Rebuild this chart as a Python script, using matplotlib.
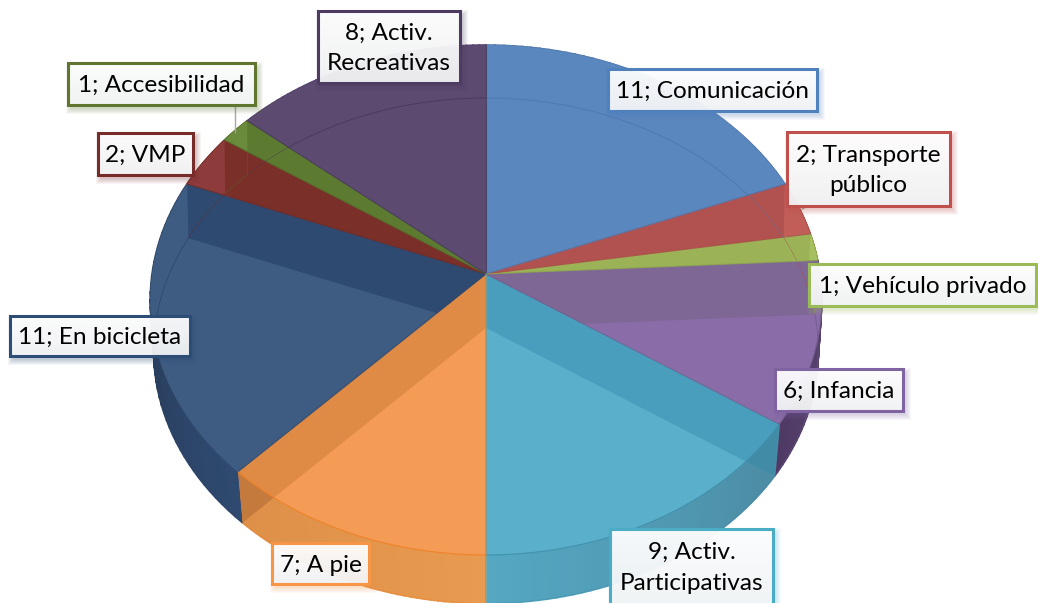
import numpy as np
import matplotlib
matplotlib.use("Agg")
import matplotlib.pyplot as plt
from matplotlib.path import Path
from matplotlib.patches import Rectangle
from matplotlib.colors import to_rgb

plt.rcParams['font.family'] = ['Lato', 'DejaVu Sans']

# ---- data ----
categories = ["Comunicación", "Transporte\npúblico", "Vehículo privado", "Infancia",
              "Activ.\nParticipativas", "A pie", "En bicicleta", "VMP",
              "Accesibilidad", "Activ.\nRecreativas"]
values = [11, 2, 1, 6, 9, 7, 11, 2, 1, 8]

# ---- styles ----
main_colors = ["#5B87BF", "#C25E58", "#A6C05F", "#8A6DA8", "#5AB0CA",
               "#F49B55", "#3E5C82", "#8E3C3B", "#6A8A3C", "#5C4A70"]
wall_colors = ["#5B87BF", "#B25250", "#9BB356", "#7F6795", "#4A9EBD",
               "#E08B45", "#2F4A70", "#7A3029", "#5D7A31", "#5C4A70"]
side_start = ["#4A6FA0", "#A04644", "#8A9F4A", "#5E4872", "#4C8BA3",
              "#E89A50", "#2F4A70", "#6E2C2A", "#55702C", "#4D3B62"]
side_end = ["#4A6FA0", "#A04644", "#8A9F4A", "#4F3A66", "#55A7C2",
            "#DE8F48", "#24344E", "#6E2C2A", "#55702C", "#4D3B62"]
border_colors = ["#4F81BD", "#C0504D", "#9BBB59", "#8064A2", "#4BACC6",
                 "#F79646", "#2C4D75", "#772C2A", "#5F7530", "#4D3B62"]
line_colors = ["#4A74AC", "#A84A48", "#8CA64A", "#6F5A8C", "#3F8EAB",
               "#EE8025", "#2C4468", "#6A2A28", "#4F6A28", "#453657"]

# label boxes: left, right, top, bottom in pixels
boxes = [(608, 817, 69, 111), (787, 950, 132, 206), (809, 1036, 264, 306),
         (775, 903, 369, 411), (610, 773, 529, 612), (272, 369, 543, 584),
         (10, 190, 316, 356), (98, 193, 133, 175), (68, 255, 63, 105),
         (318, 460, 11, 83)]

# projection of the pie onto the page (perspective tilt)
TOP = dict(cx=486, cy=274, A=334, B=252.3, k=0.102)
BOT = dict(cx=486, cy=328, A=331, B=250.7, k=0.09)


def proj(theta, r, p):
    u, v = r * np.sin(theta), r * np.cos(theta)
    w = 1 + p['k'] * v
    return np.column_stack([p['cx'] + p['A'] * u / w, p['cy'] - p['B'] * v / w])


fig = plt.figure(figsize=(10.38, 6.03), dpi=100)
ax = fig.add_axes([0, 0, 1, 1])
ax.set_xlim(0, 1038)
ax.set_ylim(603, 0)
ax.axis('off')

total = sum(values)
cum = np.concatenate([[0], np.cumsum(values)]) / total * 2 * np.pi


def poly(pts, **kw):
    p = plt.Polygon(pts, closed=True, **kw)
    ax.add_patch(p)
    return p


def arc(a, b, p, n=80):
    return proj(np.linspace(a, b, n), 1.0, p)


def apex(p):
    return np.array([[p['cx'], p['cy']]], dtype=float)


def ring_path(*rings):
    verts, codes = [], []
    for r in rings:
        verts.extend(r.tolist())
        verts.append(r[0].tolist())
        codes += [Path.MOVETO] + [Path.LINETO] * (len(r) - 1) + [Path.CLOSEPOLY]
    return Path(np.array(verts), codes)


# outer walls
for i in range(len(values)):
    a, b = cum[i], cum[i + 1]
    ts = np.linspace(a, b, 41)
    c0, c1 = np.array(to_rgb(side_start[i])), np.array(to_rgb(side_end[i]))
    for j in range(40):
        q = np.vstack([proj(ts[j:j + 2], 1, TOP), proj(ts[j:j + 2], 1, BOT)[::-1]])
        col = c0 + (c1 - c0) * j / 39
        poly(q, fc=col, ec=col, lw=1.2, zorder=2)

# upper faces
tops = []
for i in range(len(values)):
    pts = np.vstack([apex(TOP), arc(cum[i], cum[i + 1], TOP)])
    tops.append(pts)
    poly(pts, fc=main_colors[i], ec=main_colors[i], lw=0.3, zorder=3)

# see-through radial walls and rim of the base
for i in range(len(values)):
    a, b = cum[i], cum[i + 1]
    th = a if a < np.pi - 1e-6 else b
    side = np.vstack([arc(a, b, TOP), arc(a, b, BOT)[::-1]])
    clip = ring_path(tops[i], side)
    wall = np.vstack([apex(TOP), proj(np.array([th]), 1, TOP),
                      proj(np.array([th]), 1, BOT), apex(BOT)])
    pw = poly(wall, fc=wall_colors[i], ec='none', zorder=4)
    pw.set_clip_path(clip, ax.transData)
    if np.pi / 2 < th < 1.5 * np.pi:
        corner = poly(wall, fc=np.array(to_rgb(wall_colors[i])) * 0.88, ec='none', zorder=4.5)
        corner.set_clip_path(ring_path(side), ax.transData)
    base = arc(a, b, BOT)
    ln, = ax.plot(base[:, 0], base[:, 1], color=line_colors[i], lw=0.7, alpha=0.75, zorder=5)
    ln.set_clip_path(clip, ax.transData)
    rim = arc(a, b, TOP)
    if np.pi / 2 < (a + b) / 2 < 1.35 * np.pi:
        ax.plot(rim[:, 0], rim[:, 1], color=line_colors[i], lw=0.9, alpha=0.8, zorder=5)

# seams between wedges
for i, c in enumerate(cum[:-1]):
    e = proj(np.array([c]), 1, TOP)
    ax.plot([TOP['cx'], e[0, 0]], [TOP['cy'], e[0, 1]], color=line_colors[i - 1 if c < np.pi else i],
            lw=0.8, alpha=0.8, zorder=6)
ax.plot([BOT['cx'], BOT['cx']], [TOP['cy'], 603], color="#4BACC6", lw=1.2, alpha=0.7, zorder=6)

# leader lines
ax.plot([235, 235], [105, 132], color="#A6A6A6", lw=1.0, zorder=7)
ax.plot([802, 809], [209, 206], color="#A6A6A6", lw=1.0, zorder=7)

# labels
grad = np.zeros((32, 2, 4))
grad[..., 0] = np.linspace(1.0, 0.95, 32)[:, None]
grad[..., 1] = np.linspace(1.0, 0.955, 32)[:, None]
grad[..., 2] = np.linspace(1.0, 0.96, 32)[:, None]
grad[..., 3] = 0.95
for i, (name, val) in enumerate(zip(categories, values)):
    l, r, t, b = boxes[i]
    for g in range(1, 7):
        ax.add_patch(Rectangle((l + 4 - g, t + 5 - g), r - l + 2 * g - 2, b - t + 2 * g - 2,
                               fc=border_colors[i], ec='none', alpha=0.05, zorder=8))
    ax.imshow(grad, extent=(l, r, b, t), aspect='auto', zorder=9, interpolation='bilinear')
    ax.add_patch(Rectangle((l, t), r - l, b - t, fc='none', ec=border_colors[i], lw=2.2, zorder=10,
                           joinstyle='miter'))
    cy = (t + b) / 2 + 1.5 if b < 603 else 568
    ax.text((l + r) / 2, cy, f"{val}; {name}", ha='center', va='center', fontsize=17.6,
            color='black', linespacing=1.55, zorder=11)
ax.set_xlim(0, 1038)
ax.set_ylim(603, 0)

fig.savefig("out.png", dpi=100, facecolor='white')
